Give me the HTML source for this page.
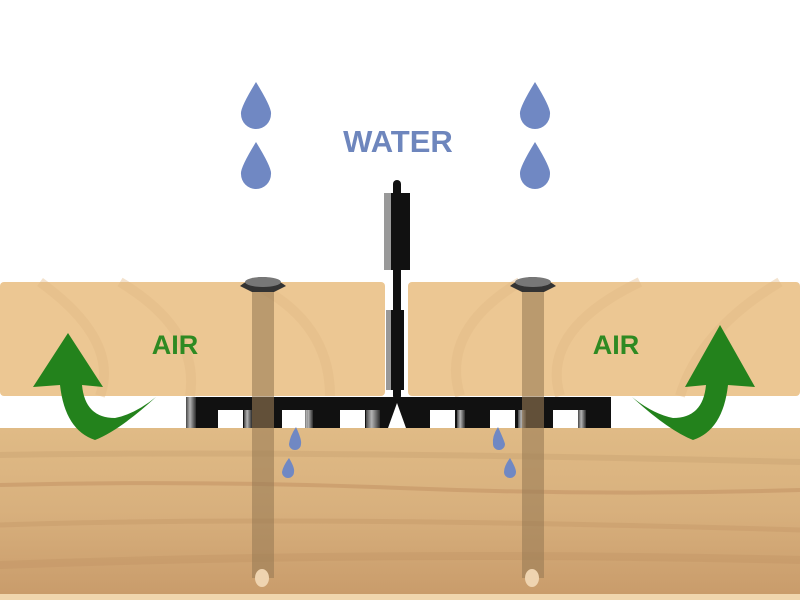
<!DOCTYPE html>
<html><head><style>body{margin:0;background:#fff}svg{display:block}</style></head><body>
<svg width="800" height="600" viewBox="0 0 800 600" xmlns="http://www.w3.org/2000/svg">
<defs>
<linearGradient id="j" x1="0" y1="0" x2="0" y2="1"><stop offset="0" stop-color="#e0bb86"/><stop offset="0.5" stop-color="#d8b07d"/><stop offset="1" stop-color="#c99c6b"/></linearGradient>
<linearGradient id="m" x1="0" y1="0" x2="1" y2="0"><stop offset="0" stop-color="#555"/><stop offset="0.4" stop-color="#ddd"/><stop offset="1" stop-color="#333"/></linearGradient>
</defs>
<rect width="800" height="600" fill="#fff"/>
<rect x="0" y="428" width="800" height="166" fill="url(#j)"/>
<rect x="0" y="594" width="800" height="6" fill="#f0d6ae"/>
<path d="M0 485 Q200 480 400 488 T800 490" stroke="#c49566" stroke-width="4" fill="none" opacity=".6"/>
<path d="M0 455 Q300 450 800 462" stroke="#c9a070" stroke-width="6" fill="none" opacity=".4"/>
<path d="M0 525 Q300 515 800 530" stroke="#c49566" stroke-width="5" fill="none" opacity=".4"/>
<path d="M0 565 Q400 550 800 560" stroke="#bd8f60" stroke-width="8" fill="none" opacity=".3"/>
<rect x="0" y="282" width="385" height="114" rx="4" fill="#ecc793"/>
<rect x="408" y="282" width="392" height="114" rx="4" fill="#ecc793"/>
<g fill="none" stroke="#e2b985" stroke-width="10" opacity=".4">
<path d="M40 282 Q120 340 100 396"/><path d="M120 282 Q200 330 190 396"/><path d="M250 282 Q330 320 330 396"/>
<path d="M460 396 Q440 330 520 282"/><path d="M560 396 Q540 330 640 282"/><path d="M680 396 Q700 330 780 282"/>
</g>
<rect x="186" y="397" width="425" height="31" fill="#111"/>
<g fill="#fff">
<rect x="218" y="410" width="25" height="18"/><rect x="282" y="410" width="25" height="18"/><rect x="340" y="410" width="25" height="18"/>
<rect x="430" y="410" width="25" height="18"/><rect x="490" y="410" width="25" height="18"/><rect x="553" y="410" width="25" height="18"/>
</g>
<path d="M388 428 L397 403 L406 428Z" fill="#fff"/>
<g fill="url(#m)" opacity=".8">
<rect x="186" y="397" width="10" height="31"/><rect x="244" y="410" width="8" height="18"/><rect x="305" y="410" width="8" height="18"/><rect x="366" y="410" width="14" height="18"/>
<rect x="457" y="410" width="8" height="18"/><rect x="518" y="410" width="8" height="18"/><rect x="578" y="410" width="8" height="18"/>
</g>
<rect x="393" y="180" width="8" height="220" rx="4" fill="#111"/>
<rect x="384" y="193" width="26" height="77" fill="#111"/>
<rect x="384" y="193" width="7" height="77" fill="#999"/>
<rect x="386" y="310" width="18" height="80" fill="#111"/>
<rect x="386" y="310" width="5" height="80" fill="#999"/>
<g>
<rect x="252" y="288" width="22" height="290" fill="#9a7c55" opacity=".6"/>
<path d="M240 286 Q262 268 286 286 L274 292 L252 292Z" fill="#333"/>
<ellipse cx="263" cy="282" rx="18" ry="5" fill="#777"/>
<ellipse cx="262" cy="578" rx="7" ry="9" fill="#efd4b0"/>
<rect x="522" y="288" width="22" height="290" fill="#9a7c55" opacity=".6"/>
<path d="M510 286 Q532 268 556 286 L544 292 L522 292Z" fill="#333"/>
<ellipse cx="533" cy="282" rx="18" ry="5" fill="#777"/>
<ellipse cx="532" cy="578" rx="7" ry="9" fill="#efd4b0"/>
</g>
<g fill="#7088c3">
<path d="M256 82 Q272 108 271 114 A15 15 0 0 1 241 114 Q240 108 256 82Z"/>
<path d="M256 142 Q272 168 271 174 A15 15 0 0 1 241 174 Q240 168 256 142Z"/>
<path d="M535 82 Q551 108 550 114 A15 15 0 0 1 520 114 Q519 108 535 82Z"/>
<path d="M535 142 Q551 168 550 174 A15 15 0 0 1 520 174 Q519 168 535 142Z"/>
<path d="M296 427 Q302 440 301 444 A6 6 0 0 1 289 444 Q290 436 296 427Z"/>
<path d="M289 458 Q295 468 294 472 A6 6 0 0 1 282 472 Q283 466 289 458Z"/>
<path d="M498 427 Q504 440 505 444 A6 6 0 0 1 493 444 Q492 436 498 427Z"/>
<path d="M510 458 Q516 468 516 472 A6 6 0 0 1 504 472 Q504 466 510 458Z"/>
</g>
<text x="398" y="152" text-anchor="middle" font-family="Liberation Sans, sans-serif" font-weight="bold" font-size="31" fill="#6e86bd">WATER</text>
<text x="175" y="354" text-anchor="middle" font-family="Liberation Sans, sans-serif" font-weight="bold" font-size="27" fill="#2e8a22">AIR</text>
<text x="616" y="354" text-anchor="middle" font-family="Liberation Sans, sans-serif" font-weight="bold" font-size="27" fill="#2e8a22">AIR</text>
<path d="M156 397 Q120 430 95 440 Q65 430 60 385 L33 387 L68 333 L103 387 L82 385 Q85 418 115 418 Q135 414 156 397Z" fill="#23821c"/>
<path d="M632 397 Q668 430 693 440 Q723 430 728 385 L755 387 L720 325 L685 387 L706 385 Q703 418 673 418 Q653 414 632 397Z" fill="#23821c"/>
</svg>
</body></html>
